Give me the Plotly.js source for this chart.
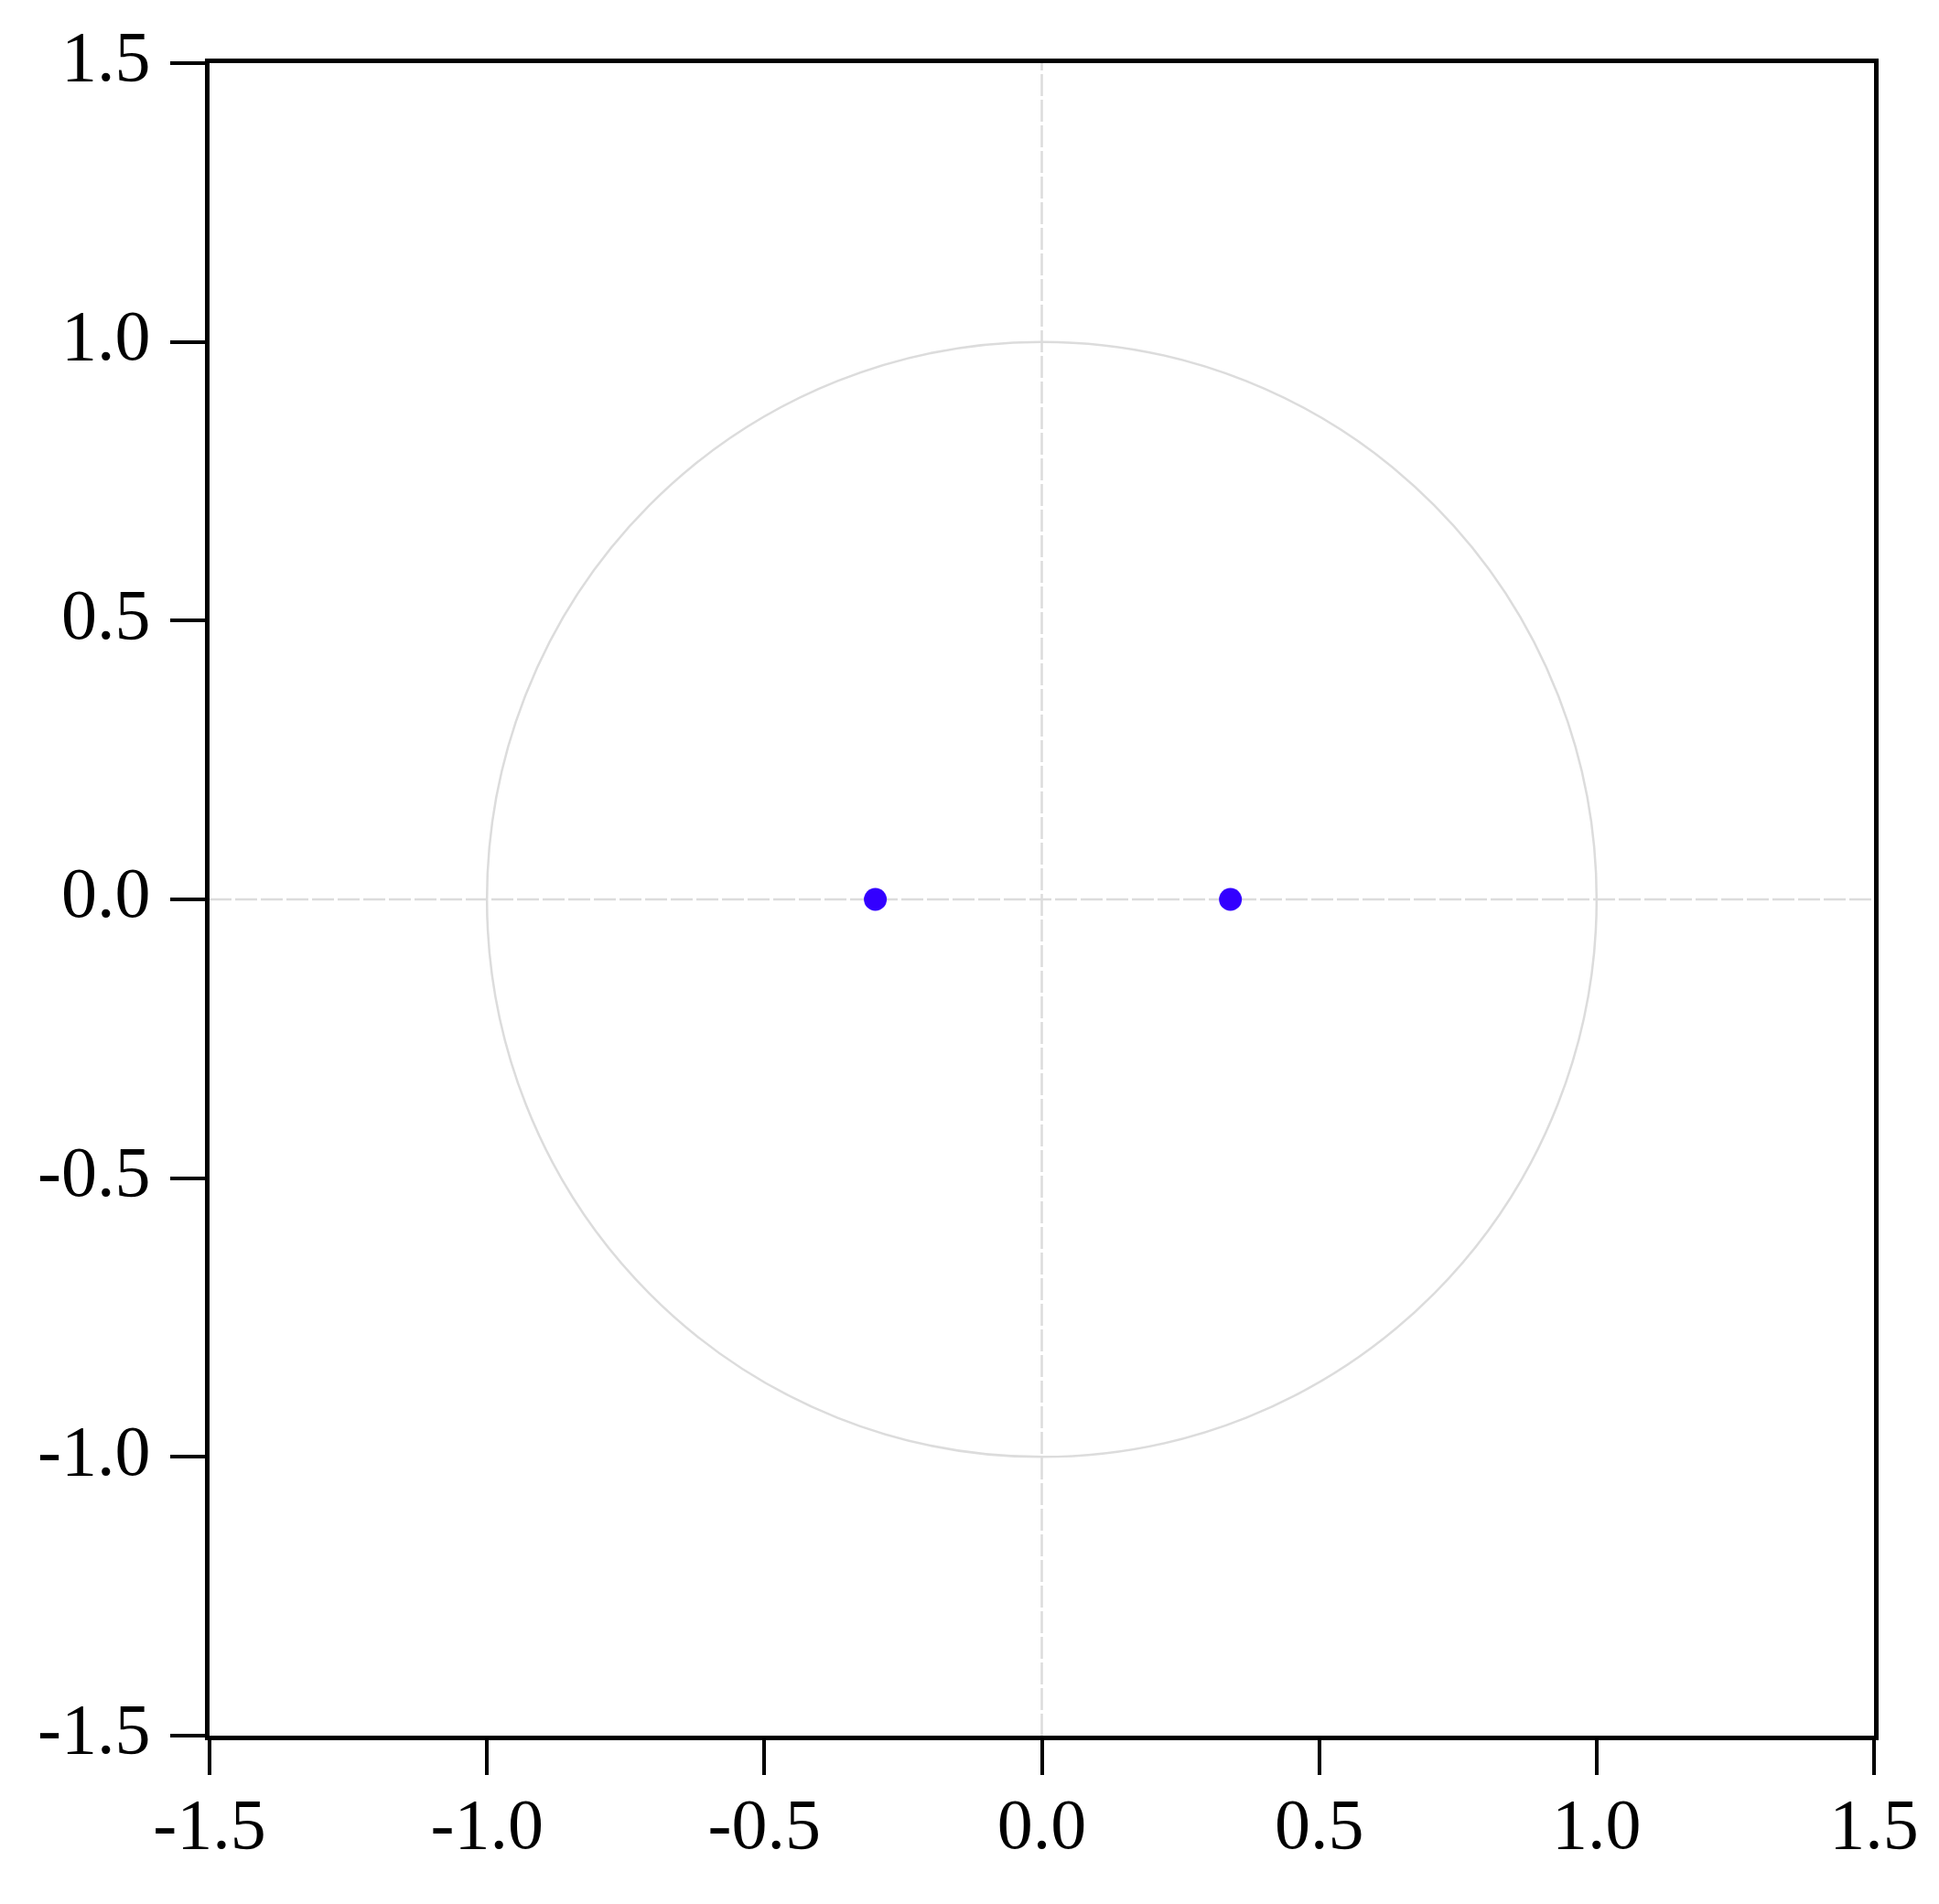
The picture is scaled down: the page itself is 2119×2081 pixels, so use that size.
<!DOCTYPE html>
<html>
<head>
<meta charset="utf-8">
<script src="https://cdn.plot.ly/plotly-3.0.1.min.js"></script>
<style>html,body{margin:0;padding:0;background:#fff;}#chart{width:2119px;height:2081px;}</style>
</head>
<body>
<div id="chart"></div>
<script>
const rootReal = [-0.30, 0.34];
const rootImag = [0.0, 0.0];
// Unit circle radius
const unitCircleRadius = 1;
// Axis ticks
const tickValues = [-1.5, -1.0, -0.5, 0.0, 0.5, 1.0, 1.5];
const tickLabels = ["-1.5", "-1.0", "-0.5", "0.0", "0.5", "1.0", "1.5"];
const axisRange = [-1.5, 1.5];

const font = {family: "Liberation Serif, Times New Roman, serif", size: 78, color: "#000"};
const gridColor = "#dcdcdc";

const trace = {
  x: rootReal,
  y: rootImag,
  type: "scatter",
  mode: "markers",
  marker: {color: "#3300ff", size: 25},
  showlegend: false,
  hoverinfo: "x+y"
};

const axisCommon = {
  range: axisRange,
  tickmode: "array",
  tickvals: tickValues,
  ticktext: tickLabels,
  ticks: "outside",
  ticklen: 38,
  tickwidth: 4,
  tickcolor: "#000",
  showline: true,
  linewidth: 5,
  linecolor: "#000",
  mirror: true,
  showgrid: false,
  zeroline: false,
  tickfont: font
};

const layout = {
  width: 2119,
  height: 2081,
  margin: {l: 229, r: 71, t: 69, b: 184, pad: 0},
  paper_bgcolor: "#fff",
  plot_bgcolor: "#fff",
  xaxis: Object.assign({}, axisCommon, {ticklabelstandoff: -14}),
  yaxis: Object.assign({}, axisCommon, {ticklabelstandoff: 6, ticklabelshift: -8}),
  shapes: [
    {type: "circle", xref: "x", yref: "y", x0: -unitCircleRadius, y0: -unitCircleRadius, x1: unitCircleRadius, y1: unitCircleRadius,
     line: {color: gridColor, width: 2.5}, layer: "below"},
    {type: "line", xref: "x", yref: "paper", x0: 0, x1: 0, y0: 0, y1: 1,
     line: {color: gridColor, width: 2.5, dash: "24px,4px"}, layer: "below"},
    {type: "line", xref: "paper", yref: "y", x0: 0, x1: 1, y0: 0, y1: 0,
     line: {color: gridColor, width: 2.5, dash: "24px,4px"}, layer: "below"}
  ]
};

Plotly.newPlot("chart", [trace], layout, {displayModeBar: false, staticPlot: true});
</script>
</body>
</html>
